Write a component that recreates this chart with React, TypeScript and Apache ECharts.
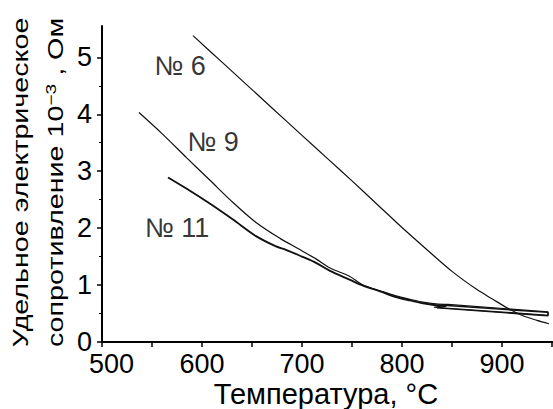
import React, { useEffect, useRef } from "react";
import * as echarts from "echarts";

const FONT = "'Liberation Sans', Arial, Helvetica, sans-serif";

// Sample № 6
const temps6 = [591, 620, 644, 670, 700, 725, 750, 775, 800, 825, 850, 875, 890, 905, 921, 935, 947];
const vals6 = [5.38, 4.915, 4.53, 4.11, 3.63, 3.23, 2.83, 2.42, 2.01, 1.62, 1.24, 0.92, 0.76, 0.6, 0.46, 0.38, 0.32];

// Sample № 9
const temps9 = [537, 560, 585, 608, 631, 654, 678, 695, 714, 728, 747, 761, 778, 794, 808, 821, 834, 846];
const vals9 = [4.03, 3.66, 3.23, 2.84, 2.45, 2.1, 1.82, 1.65, 1.46, 1.3, 1.16, 1.0, 0.9, 0.81, 0.75, 0.7, 0.67, 0.66];
const loopTemps9 = [846, 946, 946, 832, 842];
const loopVals9 = [0.66, 0.53, 0.47, 0.61, 0.64];

// Sample № 11
const temps11 = [566, 584, 607, 631, 654, 674, 684, 700, 714, 728, 747, 761, 778, 794, 808, 821, 832, 845];
const vals11 = [2.89, 2.7, 2.44, 2.15, 1.86, 1.68, 1.62, 1.5, 1.39, 1.25, 1.1, 0.99, 0.89, 0.79, 0.73, 0.68, 0.65, 0.64];
const loopTemps11 = [845, 946, 946, 835, 844];
const loopVals11 = [0.64, 0.52, 0.46, 0.6, 0.63];

// Curve labels
const labelTexts = ["№ 6", "№ 9", "№ 11"];
const labelTemps = [578, 611, 575];
const labelVals = [4.84, 3.52, 2.0];

const xTicks = [500, 600, 700, 800, 900];
const yMajor = [0, 1, 2, 3, 4, 5];
const yMinor = [0.5, 1.5, 2.5, 3.5, 4.5];

const zip = (xs: number[], ys: number[]) => xs.map((x, i) => [x, ys[i]]);

export default function App() {
  const ref = useRef<HTMLDivElement>(null);
  useEffect(() => {
    document.body.style.margin = "0";
    if (!ref.current) return;
    const chart = echarts.init(ref.current, undefined, { renderer: "svg" });
    const axisColor = "#000";
    const lineSeries = (name: string, data: number[][], width: number, smooth: number | boolean) => ({
      name,
      type: "line",
      data,
      xAxisIndex: 0,
      yAxisIndex: 0,
      showSymbol: false,
      symbol: "none",
      smooth,
      lineStyle: { color: "#111", width },
      silent: true,
    });
    const option: any = {
      animation: false,
      backgroundColor: "#fff",
      textStyle: { fontFamily: FONT },
      grid: { left: 102, right: 1, top: 26, bottom: 67, containLabel: false, outerBoundsMode: "none" },
      xAxis: [
        {
          type: "value",
          min: 500,
          max: 950,
          interval: 50,
          position: "bottom",
          axisLine: { show: true, lineStyle: { color: axisColor, width: 2 } },
          axisTick: { show: true, inside: false, length: 5, lineStyle: { color: axisColor, width: 1.5 } },
          axisLabel: {
            formatter: (v: number) =>
              v === xTicks[0] ? "{first|" + v + "}" : xTicks.includes(v) ? String(v) : "",
            fontSize: 27,
            color: "#000",
            margin: 8,
            fontFamily: FONT,
            rich: {
              first: { fontSize: 27, color: "#000", fontFamily: FONT, padding: [0, 0, 0, 19] },
            },
          },
          splitLine: { show: false },
        },
        {
          type: "value",
          min: 500,
          max: 950,
          position: "top",
          axisLine: { show: true, lineStyle: { color: axisColor, width: 2 } },
          axisTick: { show: false },
          axisLabel: { show: false },
          splitLine: { show: false },
        },
      ],
      yAxis: [
        {
          type: "value",
          min: 0,
          max: 5.55,
          interval: 1,
          position: "left",
          axisLine: { show: true, lineStyle: { color: axisColor, width: 2 } },
          axisTick: { show: true, inside: false, length: 5, customValues: yMajor, lineStyle: { color: axisColor, width: 1.5 } },
          axisLabel: {
            customValues: yMajor,
            formatter: (v: number) => (yMajor.includes(v) ? String(v) : ""),
            fontSize: 27,
            color: "#000",
            margin: 10,
            fontFamily: FONT,
          },
          splitLine: { show: false },
        },
        {
          type: "value",
          min: 0,
          max: 5.55,
          interval: 0.5,
          position: "left",
          axisLine: { show: false },
          axisTick: { show: true, inside: false, length: 3, customValues: yMinor, lineStyle: { color: axisColor, width: 1 } },
          axisLabel: { show: false },
          splitLine: { show: false },
        },
      ],
      series: [
        lineSeries("№ 6", zip(temps6, vals6), 1.2, 0.3),
        lineSeries("№ 9", zip(temps9, vals9), 1.2, 0.3),
        lineSeries("№ 9 loop", zip(loopTemps9, loopVals9), 1.2, false),
        lineSeries("№ 11", zip(temps11, vals11), 1.9, 0.3),
        lineSeries("№ 11 loop", zip(loopTemps11, loopVals11), 1.4, false),
        {
          name: "labels",
          type: "scatter",
          data: zip(labelTemps, labelVals),
          symbolSize: 1,
          itemStyle: { color: "rgba(0,0,0,0)" },
          silent: true,
          label: {
            show: true,
            position: "inside",
            formatter: (p: any) => labelTexts[p.dataIndex],
            fontSize: 27,
            color: "#000",
            fontFamily: FONT,
          },
        },
      ],
      graphic: [
        {
          type: "text",
          x: 326,
          y: 394,
          style: {
            text: "Температура, °C",
            fontSize: 29,
            fontFamily: FONT,
            fill: "#000",
            align: "center",
            verticalAlign: "middle",
            textAlign: "center",
            textVerticalAlign: "middle",
          },
        },
        {
          type: "text",
          x: 20,
          y: 182.5,
          rotation: Math.PI / 2,
          scaleX: 1.275,
          style: {
            text: "Удельное электрическое",
            fontSize: 22.5,
            fontFamily: FONT,
            fill: "#000",
            align: "center",
            verticalAlign: "middle",
            textAlign: "center",
            textVerticalAlign: "middle",
          },
        },
        {
          type: "text",
          x: 55.5,
          y: 182.5,
          rotation: Math.PI / 2,
          scaleX: 1.275,
          style: {
            text: "сопротивление 10{sup|−3} , Ом",
            fontSize: 22.5,
            fontFamily: FONT,
            fill: "#000",
            align: "center",
            verticalAlign: "middle",
            textAlign: "center",
            textVerticalAlign: "middle",
            rich: {
              sup: { fontSize: 15, fontFamily: FONT, fill: "#000", verticalAlign: "top", lineHeight: 24 },
            },
          },
        },
      ],
    };
    chart.setOption(option);
    return () => chart.dispose();
  }, []);
  return <div ref={ref} style={{ width: 553, height: 409 }} />;
}
